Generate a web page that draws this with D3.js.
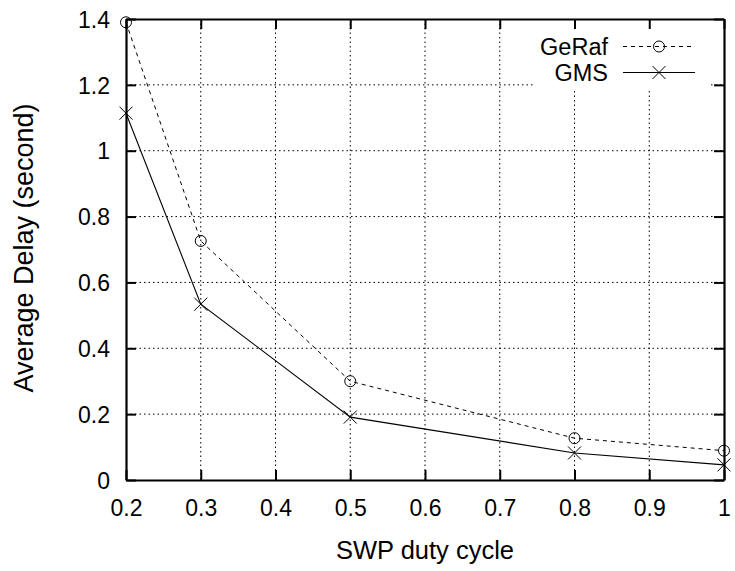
<!DOCTYPE html>
<html>
<head>
<meta charset="utf-8">
<script src="https://cdn.jsdelivr.net/npm/d3@7"></script>
<style>
  body { margin: 0; background: #fff; }
  text { font-family: "Liberation Sans", Arial, sans-serif; fill: #000; }
</style>
</head>
<body>
<div id="chart"></div>
<script>
// data
var dutyCycle = [0.2, 0.3, 0.5, 0.8, 1.0];
var geraf = [1.39, 0.726, 0.30, 0.127, 0.089];
var gms = [1.114, 0.534, 0.191, 0.082, 0.046];
var xTicks = [0.2, 0.3, 0.4, 0.5, 0.6, 0.7, 0.8, 0.9, 1];
var yTicks = [0, 0.2, 0.4, 0.6, 0.8, 1, 1.2, 1.4];
var seriesNames = ["GeRaf", "GMS"];

var width = 735, height = 571;
var margin = {top: 19, right: 11, bottom: 91, left: 126};
var w = width - margin.left - margin.right,
    h = height - margin.top - margin.bottom;

var svg = d3.select("#chart").append("svg")
    .attr("width", width)
    .attr("height", height);

var g = svg.append("g")
    .attr("transform", "translate(" + margin.left + "," + margin.top + ")");

var x = d3.scaleLinear().domain([0.2, 1]).range([0, w]);
var y = d3.scaleLinear().domain([0, 1.4]).range([h, 0]);

var fmt = function(d) { return d3.format("")(+d.toFixed(1)); };

// grid
g.append("g").selectAll("line").data(xTicks.slice(1, -1)).enter().append("line")
    .attr("x1", d => x(d)).attr("x2", d => x(d))
    .attr("y1", 0).attr("y2", h)
    .attr("stroke", "#000").attr("stroke-width", 1).attr("stroke-dasharray", "1.5,3");
g.append("g").selectAll("line").data(yTicks.slice(1, -1)).enter().append("line")
    .attr("x1", 0).attr("x2", w)
    .attr("y1", d => y(d)).attr("y2", d => y(d))
    .attr("stroke", "#000").attr("stroke-width", 1).attr("stroke-dasharray", "1.5,3");

// legend backdrop covers the grid
g.append("rect")
    .attr("x", 407).attr("y", 3).attr("width", 178).attr("height", 67)
    .attr("fill", "#fff");

// axes with inward ticks, mirrored
var tick = 10;
var axBottom = g.append("g").attr("transform", "translate(0," + h + ")")
    .call(d3.axisBottom(x).tickValues(xTicks).tickSizeInner(-tick).tickSizeOuter(0).tickPadding(20).tickFormat(fmt));
var axTop = g.append("g")
    .call(d3.axisTop(x).tickValues(xTicks).tickSizeInner(-tick).tickSizeOuter(0).tickFormat(""));
var axLeft = g.append("g")
    .call(d3.axisLeft(y).tickValues(yTicks).tickSizeInner(-tick).tickSizeOuter(0).tickPadding(16).tickFormat(fmt));
var axRight = g.append("g").attr("transform", "translate(" + w + ",0)")
    .call(d3.axisRight(y).tickValues(yTicks).tickSizeInner(-tick).tickSizeOuter(0).tickFormat(""));

[axBottom, axTop, axLeft, axRight].forEach(function(a) {
    a.select(".domain").attr("stroke", "#000").attr("stroke-width", 2.2);
    a.selectAll(".tick line").attr("stroke", "#000").attr("stroke-width", 2);
    a.selectAll(".tick text").attr("font-size", 23).attr("font-family", "Liberation Sans, Arial, sans-serif").attr("fill", "#000");
});
axBottom.selectAll(".tick text").attr("dy", "0.71em");
axLeft.selectAll(".tick text").attr("dy", "0.36em");

// series
var line = d3.line().x(d => x(d[0])).y(d => y(d[1]));
var pts1 = dutyCycle.map((d, i) => [d, geraf[i]]);
var pts2 = dutyCycle.map((d, i) => [d, gms[i]]);

g.append("path").datum(pts1).attr("d", line)
    .attr("fill", "none").attr("stroke", "#000").attr("stroke-width", 1).attr("stroke-dasharray", "4,4");
g.append("path").datum(pts2).attr("d", line)
    .attr("fill", "none").attr("stroke", "#000").attr("stroke-width", 1.1);

function circle(sel, cx, cy) {
    sel.append("circle").attr("cx", cx).attr("cy", cy).attr("r", 5.5)
        .attr("fill", "none").attr("stroke", "#000").attr("stroke-width", 1);
}
function cross(sel, cx, cy) {
    var s = 6.5;
    sel.append("path")
        .attr("d", "M" + (cx - s) + "," + (cy - s) + "L" + (cx + s) + "," + (cy + s) +
                   "M" + (cx - s) + "," + (cy + s) + "L" + (cx + s) + "," + (cy - s))
        .attr("stroke", "#000").attr("stroke-width", 1).attr("fill", "none");
}
pts1.forEach(p => circle(g, x(p[0]), y(p[1])));
pts2.forEach(p => cross(g, x(p[0]), y(p[1])));

// legend
var lg = g.append("g");
seriesNames.forEach(function(name, i) {
    var ly = 27.5 + i * 26;
    lg.append("text").attr("x", 482).attr("y", ly).attr("dy", "0.36em")
        .attr("text-anchor", "end").attr("font-size", 23.5).text(name);
    lg.append("line").attr("x1", 497).attr("x2", i === 0 ? 565 : 569).attr("y1", ly).attr("y2", ly)
        .attr("stroke", "#000").attr("stroke-width", 1)
        .attr("stroke-dasharray", i === 0 ? "4,4" : null);
    if (i === 0) circle(lg, 533, ly); else cross(lg, 533, ly);
});

// axis titles
svg.append("text")
    .attr("x", margin.left + 299).attr("y", 559)
    .attr("text-anchor", "middle").attr("font-size", 25.5)
    .text("SWP duty cycle");
svg.append("text")
    .attr("transform", "translate(33,248) rotate(-90)")
    .attr("text-anchor", "middle").attr("font-size", 27)
    .text("Average Delay (second)");
</script>
</body>
</html>
